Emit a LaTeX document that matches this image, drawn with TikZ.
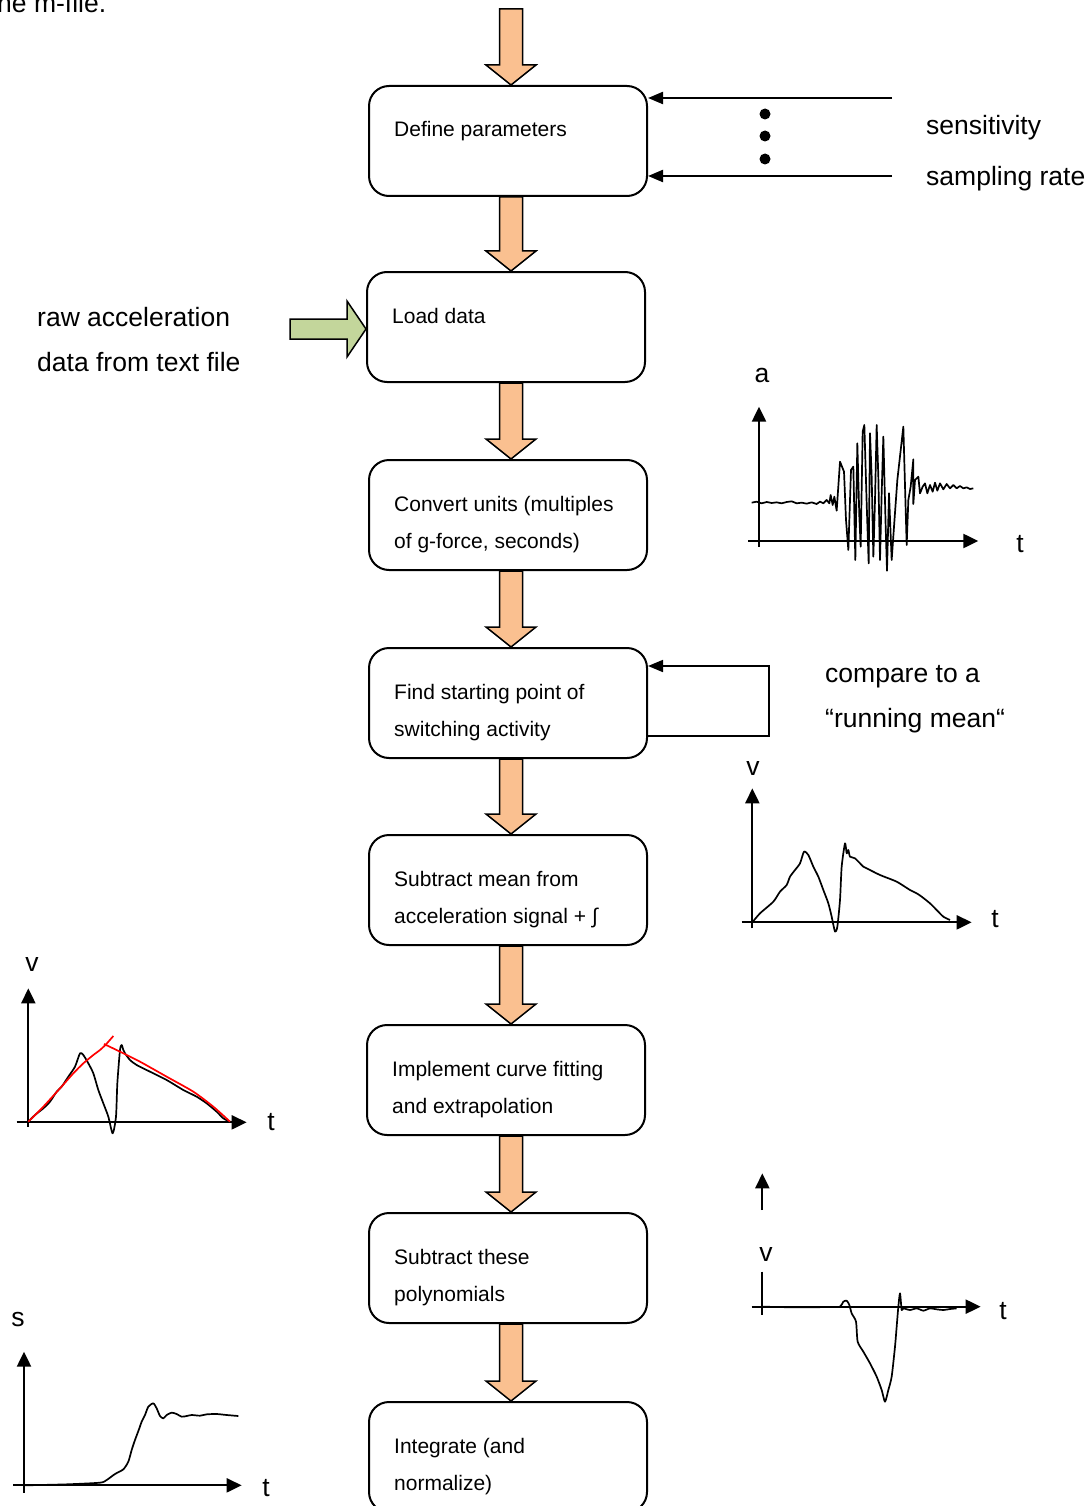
\documentclass[tikz,border=0pt]{standalone}
\usepackage{fontspec}
\setmainfont{Liberation Sans}
\usetikzlibrary{calc,arrows.meta}
\definecolor{orfill}{RGB}{250,192,144}
\definecolor{grfill}{RGB}{195,214,155}
\begin{document}
\begin{tikzpicture}[x=1pt,y=-1pt,
  box/.style={draw, line width=2pt, rounded corners=20pt, minimum width=278pt, minimum height=110pt, inner sep=0pt},
  btext/.style={font=\fontsize{21}{37}\selectfont, align=left, inner sep=0pt, anchor=base west},
  stext/.style={font=\fontsize{26.5}{45}\selectfont, align=left, inner sep=0pt, anchor=base west},
  lbl/.style={font=\fontsize{26.5}{30}\selectfont, inner sep=0pt},
  blk/.style={draw, line width=1.5pt, line join=miter, fill=orfill},
  gblk/.style={draw, line width=1.5pt, line join=miter, fill=grfill},
  conn/.style={line width=2.2pt, -{Triangle[length=15pt,width=12pt]}},
  fconn/.style={line width=1.7pt, -{Triangle[length=15pt,width=12pt]}},
  axis/.style={line width=2.2pt, -{Triangle[length=15pt,width=14pt]}},
  axisplain/.style={line width=2.2pt},
  sig/.style={line width=1.7pt, line join=round},
  fit/.style={line width=1.7pt, red, line join=round},
]
\useasboundingbox (0,0) rectangle (1089,1506);

% top text (cut off)
\node[stext] (mfile) at (-3,13) {he m-file.};

% boxes
\node[box] (b1) at (508,141) {};
\node[box] (b2) at (506,327) {};
\node[box] (b3) at (508,515) {};
\node[box] (b4) at (508,703) {};
\node[box] (b5) at (508,890) {};
\node[box] (b6) at (506,1080) {};
\node[box] (b7) at (508,1268) {};
\node[box] (b8) at (508,1457) {};

\node[btext] (t1) at ($(b1.north west)+(26,52)$) {Define parameters};
\node[btext] (t2) at ($(b2.north west)+(26,52)$) {Load data};
\node[btext] (t3) at ($(b3.north west)+(26,89)$) {Convert units (multiples\\of g-force, seconds)};
\node[btext] (t4) at ($(b4.north west)+(26,89)$) {Find starting point of\\switching activity};
\node[btext] (t5) at ($(b5.north west)+(26,89)$) {Subtract mean from\\acceleration signal + \char"222B};
\node[btext] (t6) at ($(b6.north west)+(26,89)$) {Implement curve fitting\\and extrapolation};
\node[btext] (t7) at ($(b7.north west)+(26,89)$) {Subtract these\\polynomials};
\node[btext] (t8) at ($(b8.north west)+(26,89)$) {Integrate (and\\normalize)};

% block arrows
\coordinate (ax) at (511,0);
\coordinate (top) at (511,9);
\coordinate (tip0) at (b1.north -| ax);
\draw[blk] ($(top)+(-11.5,0)$) -- ($(tip0)+(-11.5,-20)$) -- ($(tip0)+(-25,-20)$) -- (tip0)
  -- ($(tip0)+(25,-20)$) -- ($(tip0)+(11.5,-20)$) -- ($(top)+(11.5,0)$) -- cycle;
\foreach \a/\b in {b1/b2,b2/b3,b3/b4,b4/b5,b5/b6,b6/b7,b7/b8}{
  \coordinate (s) at (\a.south -| ax);
  \coordinate (e) at (\b.north -| ax);
  \draw[blk] ($(s)+(-11.5,0)$) -- ($(e)+(-11.5,-20)$) -- ($(e)+(-25,-20)$) -- (e)
    -- ($(e)+(25,-20)$) -- ($(e)+(11.5,-20)$) -- ($(s)+(11.5,0)$) -- cycle;
}

% green arrow into Load data
\coordinate (ga) at (290,329);
\coordinate (gt) at (b2.west |- ga);
\draw[gblk] ($(ga)+(0,-10)$) -- ($(gt)+(-19,-10)$) -- ($(gt)+(-19,-28)$) -- (gt)
  -- ($(gt)+(-19,28)$) -- ($(gt)+(-19,10)$) -- ($(ga)+(0,10)$) -- cycle;
\node[stext] (raw1) at (37,326) {raw acceleration};
\node[stext] (raw2) at (37,371) {data from text file};

% parameter inputs
\coordinate (p1) at (892,98);
\coordinate (p2) at (892,176);
\draw[conn] (p1) -- (b1.east |- p1);
\draw[conn] (p2) -- (b1.east |- p2);
\fill (765,114) circle (5.5);
\fill (765,136) circle (5.5);
\fill (765,159) circle (5.5);
\node[stext] (sens) at (926,135) {sensitivity};
\node[stext] (samp) at (926,186) {sampling rate};

% feedback loop
\coordinate (f1) at (769,736);
\coordinate (f2) at (769,666);
\draw[fconn] (b4.east |- f1) -- (f1) -- (f2) -- (b4.east |- f2);
\node[stext] (cmp1) at (825,682) {compare to a};
\node[stext] (cmp2) at (825,727) {“running mean“};

% graph A: acceleration
\node[lbl] (la) at (762,375) {a};
\node[lbl] (lat) at (1020,544) {t};
\begin{scope}[shift={(740,360)}, scale=1/3]
\draw[axis] (57,560) -- (57,140);
\draw[axis] (25,543) -- (715,543);
\draw[sig] plot coordinates {(35,428)(50,425)(65,430)(80,426)(95,429)(110,427)(125,430)(140,426)(155,424)(170,430)(185,428)(200,431)(215,427)(230,432)(240,425)(250,430)(260,420)(268,430)(272,405)(278,435)(283,410)(290,452)(300,305)(312,335)(318,480)(325,570)(333,330)(340,320)(346,600)(352,250)(358,470)(362,560)(368,215)(373,195)(380,430)(386,610)(390,220)(395,350)(400,590)(405,420)(410,195)(415,350)(420,600)(425,400)(430,230)(437,500)(441,632)(447,400)(455,600)(462,500)(472,360)(490,200)(500,555)(505,420)(512,380)(520,298)(520,432)(525,360)(535,350)(540,400)(548,380)(555,370)(562,400)(570,375)(578,395)(585,368)(592,392)(600,370)(610,388)(620,372)(630,385)(640,375)(650,385)(660,378)(670,385)(680,382)(690,387)(700,385)};
\end{scope}

% graph B: velocity
\node[lbl] (lb) at (753,768) {v};
\node[lbl] (lbt) at (995,919) {t};
\begin{scope}[shift={(730,760)}, scale=1/3]
\draw[axis] (67,505) -- (67,85);
\draw[axis] (35,487) -- (725,487);
\draw[sig] plot[smooth, tension=0.4] coordinates {(67,487)(90,460)(130,425)(150,395)(170,375)(180,350)(195,330)(210,310)(222,275)(235,285)(250,320)(265,350)(280,390)(295,430)(305,470)(315,515)(322,500)(330,420)(335,320)(345,250)(350,280)(355,270)(360,290)(375,295)(400,320)(410,325)(450,345)(500,365)(540,390)(560,400)(575,410)(600,430)(620,450)(640,470)(660,480)};
\end{scope}

% graph C: velocity with fit
\node[lbl] (lc) at (32,964) {v};
\node[lbl] (lct) at (271,1122) {t};
\begin{scope}[shift={(0,950)}, scale=1/3]
\draw[axis] (85,530) -- (85,115);
\draw[axis] (50,517) -- (740,517);
\draw[sig] plot[smooth, tension=0.4] coordinates {(85,515)(105,495)(130,475)(150,455)(170,425)(185,410)(205,380)(225,350)(240,310)(250,315)(265,340)(280,370)(295,420)(310,460)(325,500)(338,550)(348,500)(352,400)(360,300)(365,285)(370,300)(375,310)(390,330)(410,345)(450,365)(500,390)(550,420)(590,440)(620,460)(650,485)(670,505)(690,515)};
\draw[fit] plot[smooth, tension=0.4] coordinates {(85,515)(130,470)(180,415)(220,370)(250,340)(280,315)(300,300)(318,283)(340,258)};
\draw[fit] plot[smooth, tension=0.4] coordinates {(312,282)(360,305)(420,335)(500,380)(580,425)(640,470)(690,515)};
\end{scope}

% graph D: after subtraction
\node[lbl] (ld) at (766,1254) {v};
\node[lbl] (ldt) at (1003,1311) {t};
\begin{scope}[shift={(730,1160)}, scale=1/3]
\draw[axis] (97,150) -- (97,40);
\draw[axisplain] (97,335) -- (97,465);
\draw[axis] (65,440) -- (752,440);
\draw[sig] plot[smooth, tension=0.4] coordinates {(97,440)(200,442)(300,441)(330,440)(340,425)(350,422)(358,435)(365,460)(378,485)(383,545)(400,575)(420,610)(440,650)(455,690)(465,725)(475,690)(485,650)(495,560)(500,500)(505,440)(510,400)(515,450)(520,445)(540,450)(560,445)(580,452)(600,445)(620,448)(640,450)(660,447)(680,445)};
\end{scope}

% graph E: displacement
\node[lbl] (le) at (18,1320) {s};
\node[lbl] (let) at (266,1488) {t};
\begin{scope}[shift={(0,1300)}, scale=1/3]
\draw[axis] (72,578) -- (72,155);
\draw[axis] (40,556) -- (725,556);
\draw[sig] plot[smooth, tension=0.4] coordinates {(72,556)(200,553)(300,548)(320,540)(345,522)(370,508)(385,485)(395,450)(405,420)(418,385)(425,365)(435,345)(445,320)(460,310)(470,325)(480,348)(490,355)(500,345)(515,338)(530,342)(545,350)(560,348)(575,345)(600,347)(620,343)(650,342)(680,345)(715,348)};
\end{scope}
\end{tikzpicture}
\end{document}
